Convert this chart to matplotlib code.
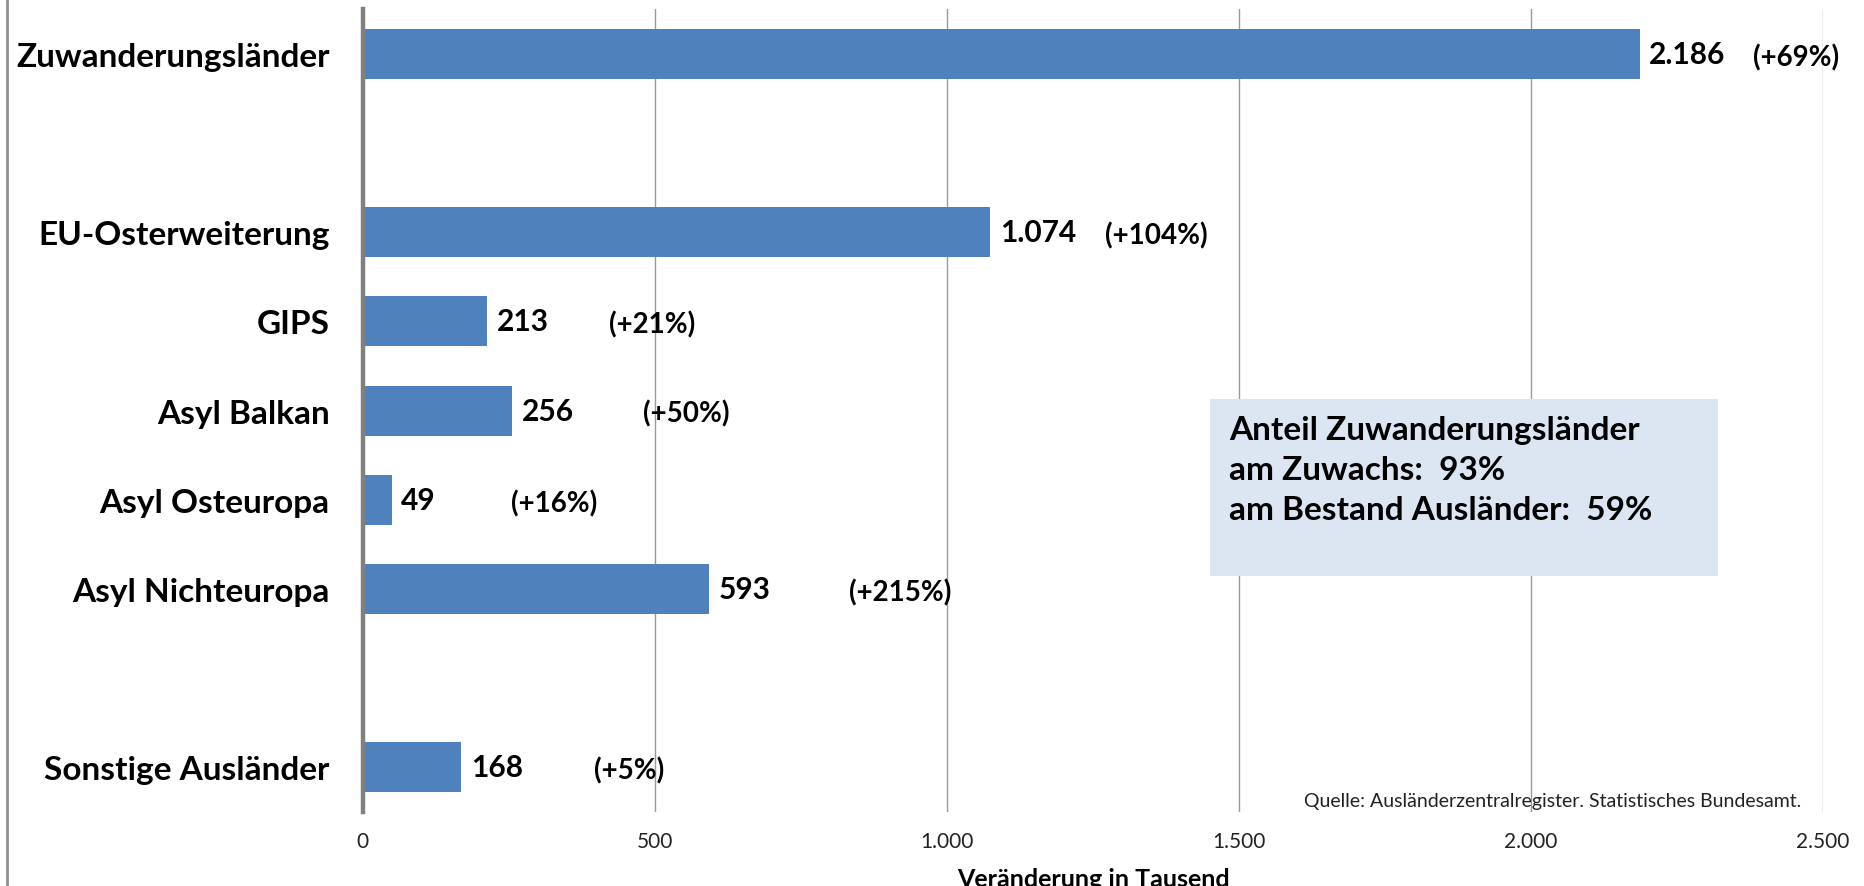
import matplotlib.pyplot as plt
import matplotlib.ticker as mticker

plt.rcParams['font.family'] = ['Lato', 'DejaVu Sans']

# data
categories = ['Zuwanderungsländer', 'EU-Osterweiterung', 'GIPS', 'Asyl Balkan',
              'Asyl Osteuropa', 'Asyl Nichteuropa', 'Sonstige Ausländer']
values = [2186, 1074, 213, 256, 49, 593, 168]
value_labels = ['2.186', '1.074', '213', '256', '49', '593', '168']
pct_labels = ['(+69%)', '(+104%)', '(+21%)', '(+50%)', '(+16%)', '(+215%)', '(+5%)']

# layout (slots with gaps, x where the percent text starts)
slots = [0, 2, 3, 4, 5, 6, 8]
pct_x = [2380, 1271, 421, 480, 254, 832, 395]

bar_color = '#4F81BD'

fig = plt.figure(figsize=(18.64, 8.87), dpi=100)
ax = fig.add_axes([0.1947, 0.0834, 0.978 - 0.1947, 0.9887 - 0.0834])

ax.barh(slots, values, height=0.56, color=bar_color, zorder=3)

ax.set_xlim(0, 2500)
ax.set_ylim(8.5, -0.5)
ax.xaxis.set_major_locator(mticker.MultipleLocator(500))
ax.xaxis.set_major_formatter(mticker.FuncFormatter(
    lambda v, p: f'{int(v):,}'.replace(',', '.')))
ax.grid(axis='x', color='#999999', linewidth=1.0, zorder=0)

ax.set_yticks(slots)
ax.set_yticklabels(categories, fontsize=24, fontweight='bold')
ax.tick_params(axis='y', length=0, pad=24)
ax.tick_params(axis='x', length=0, pad=14, labelsize=15, colors='#222222')

for s in ['top', 'right', 'bottom']:
    ax.spines[s].set_visible(False)
ax.spines['left'].set_color('#808080')
ax.spines['left'].set_linewidth(3.2)
ax.spines['left'].set_zorder(4)

for y, v, vl, pl, px in zip(slots, values, value_labels, pct_labels, pct_x):
    ax.annotate(vl, (v, y), xytext=(7, 0), textcoords='offset points',
                ha='left', va='center', fontsize=21.5, fontweight='bold', zorder=5)
    ax.annotate(pl, (px, y), xytext=(0, -2), textcoords='offset points',
                ha='left', va='center', fontsize=20, fontweight='bold', zorder=5)

ax.set_xlabel('Veränderung in Tausend', fontsize=18, fontweight='bold', labelpad=11)

# info box
fig.patches.append(plt.Rectangle((1210 / 1864, 1 - 577 / 887), 508 / 1864, 177 / 887,
                                 transform=fig.transFigure, facecolor='#DCE6F2',
                                 edgecolor='none', zorder=1))
fig.text(1229 / 1864, 1 - 416 / 887,
         'Anteil Zuwanderungsländer\nam Zuwachs:  93%\nam Bestand Ausländer:  59%',
         fontsize=24, fontweight='bold', va='top', ha='left', linespacing=1.45)

fig.text(1801 / 1864, 1 - 802 / 887,
         'Quelle: Ausländerzentralregister. Statistisches Bundesamt.',
         fontsize=14, ha='right', va='center', color='#222222')

# left frame line
fig.add_artist(plt.Line2D([7 / 1864, 7 / 1864], [0, 1], transform=fig.transFigure,
                          color='#909090', linewidth=2))

fig.savefig('out.png', dpi=100)
